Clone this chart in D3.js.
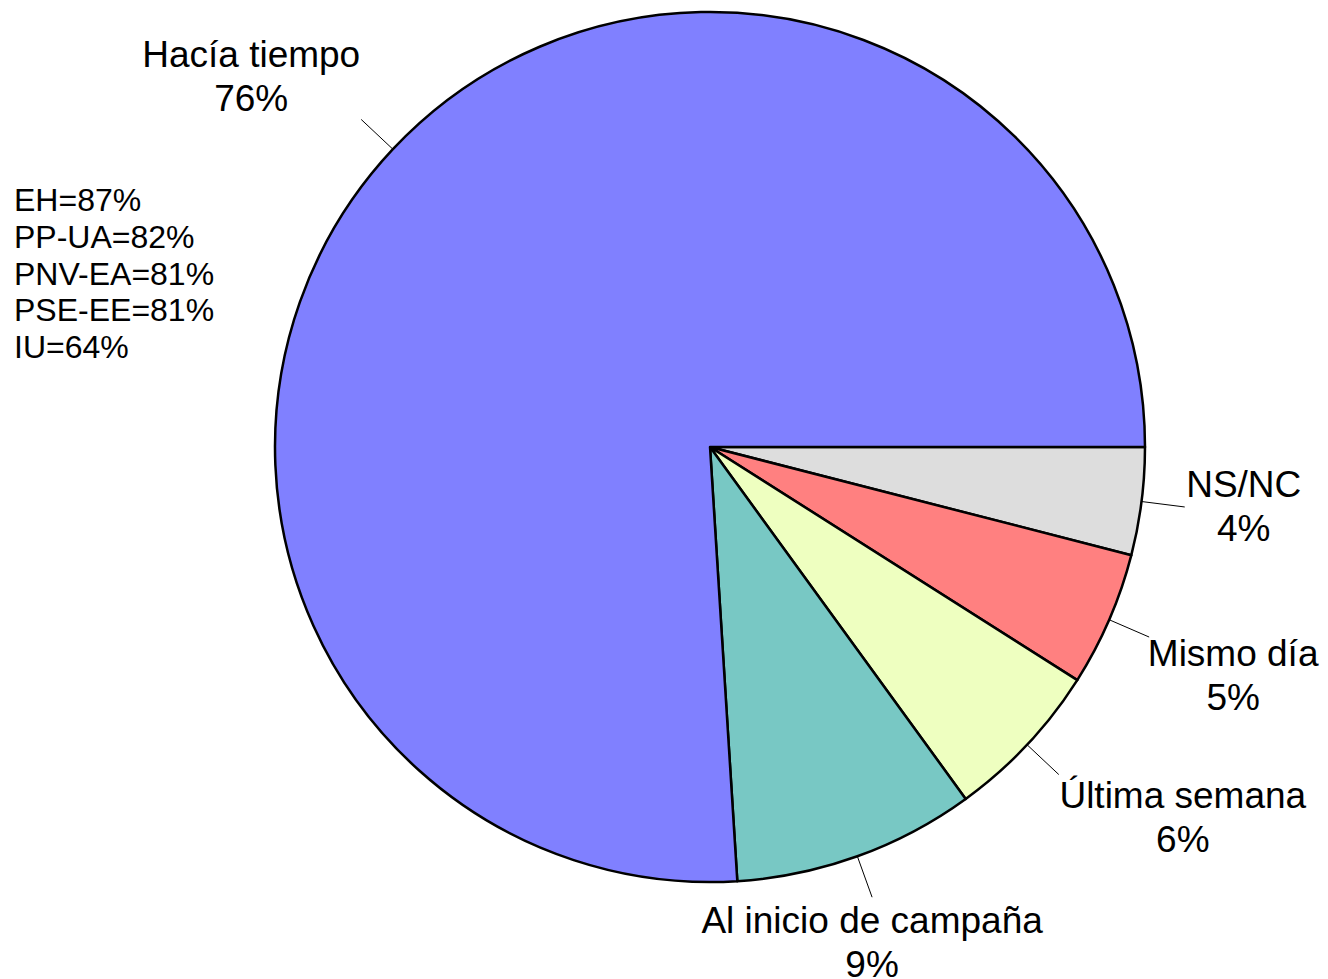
<!DOCTYPE html>
<html>
<head>
<meta charset="utf-8">
<script src="https://cdn.jsdelivr.net/npm/d3@7"></script>
<style>
  body { margin: 0; background: #fff; }
  svg { display: block; font-family: "Liberation Sans", Arial, sans-serif; }
</style>
</head>
<body>
<svg id="chart" width="1328" height="979"></svg>
<script>
// slices, clockwise from 3 o'clock
var categories = ["NS/NC", "Mismo día", "Última semana", "Al inicio de campaña", "Hacía tiempo"];
var values = [4, 5, 6, 9, 76];
var colors = ["#DDDDDD", "#FF8080", "#EEFFC0", "#78C8C4", "#8080FF"];

// side note next to "Hacía tiempo"
var notes = ["EH=87%", "PP-UA=82%", "PNV-EA=81%", "PSE-EE=81%", "IU=64%"];

// label offset from the end of each leader line (x centre, first baseline)
var labelOffset = [[59, -10], [84, 29], [124, 33], [0, 36], [-110, -52]];

var svg = d3.select("#chart");
var cx = 710, cy = 447, r = 435;

var data = categories.map(function(c, i) {
  return {name: c, value: values[i], color: colors[i], off: labelOffset[i]};
});

var pie = d3.pie()
    .sort(null)
    .value(function(d) { return d.value; })
    .startAngle(Math.PI / 2)
    .endAngle(Math.PI / 2 + 2 * Math.PI);

var arc = d3.arc().innerRadius(0).outerRadius(r);

var g = svg.append("g").attr("transform", "translate(" + cx + "," + cy + ")");

var arcs = pie(data);

g.selectAll("path.slice")
    .data(arcs)
  .enter().append("path")
    .attr("class", "slice")
    .attr("d", arc)
    .attr("fill", function(d) { return d.data.color; })
    .attr("stroke", "#000")
    .attr("stroke-width", 2.5)
    .attr("stroke-linejoin", "round");

// leader lines go straight out from the middle of each slice
function pointAt(a, rad) {
  return [Math.sin(a) * rad, -Math.cos(a) * rad];
}

arcs.forEach(function(d) {
  var mid = (d.startAngle + d.endAngle) / 2;
  var p0 = pointAt(mid, r);
  var p1 = pointAt(mid, r * 1.1);
  g.append("line")
      .attr("x1", p0[0]).attr("y1", p0[1])
      .attr("x2", p1[0]).attr("y2", p1[1])
      .attr("stroke", "#000")
      .attr("stroke-width", 1);

  var t = g.append("text")
      .attr("text-anchor", "middle")
      .attr("font-size", 37)
      .attr("fill", "#000");
  t.append("tspan")
      .attr("x", p1[0] + d.data.off[0])
      .attr("y", p1[1] + d.data.off[1])
      .text(d.data.name);
  t.append("tspan")
      .attr("x", p1[0] + d.data.off[0])
      .attr("y", p1[1] + d.data.off[1] + 44)
      .text(d.data.value + "%");
});

svg.selectAll("text.note")
    .data(notes)
  .enter().append("text")
    .attr("class", "note")
    .attr("x", 14)
    .attr("y", function(d, i) { return 211 + i * 36.8; })
    .attr("font-size", 32)
    .attr("fill", "#000")
    .text(function(d) { return d; });
</script>
</body>
</html>
